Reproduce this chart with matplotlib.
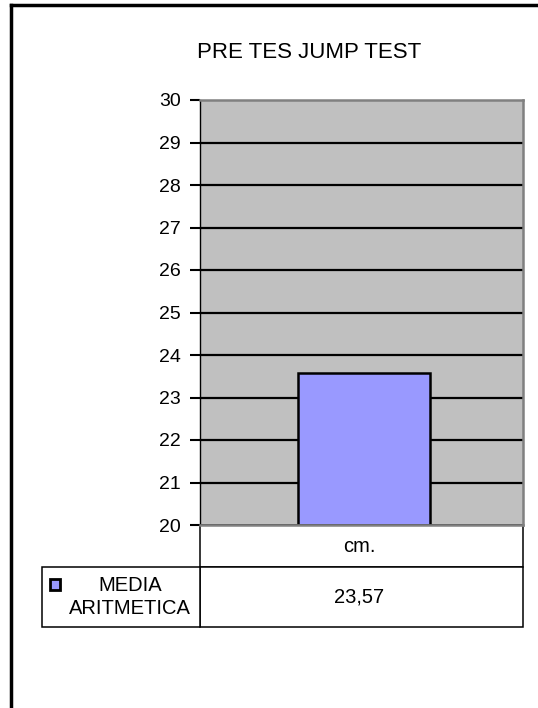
import matplotlib.pyplot as plt
from matplotlib.patches import Rectangle
from matplotlib.lines import Line2D

plt.rcParams['font.family'] = ['Liberation Sans', 'DejaVu Sans']

# data
categories = ["cm."]
values = [23.57]
value_labels = ["23,57"]
series_name = "MEDIA\nARITMETICA"
y_ticks = list(range(20, 31))

W, H = 538, 708
fig = plt.figure(figsize=(W / 100, H / 100), dpi=100)

# outer frame (left + top only)
fig.add_artist(Line2D([11 / W, 11 / W], [0, 1 - 5 / H], color='black', lw=2.5))
fig.add_artist(Line2D([11 / W, 1], [1 - 5 / H, 1 - 5 / H], color='black', lw=2.5))

fig.text(309 / W, 1 - 52 / H, "PRE TES JUMP TEST", ha='center', va='center', fontsize=16)

# plot area
x0, x1, y0, y1 = 200, 523, 100, 525
ax = fig.add_axes([x0 / W, 1 - y1 / H, (x1 - x0) / W, (y1 - y0) / H])
ax.set_facecolor('#c0c0c0')
ax.set_xlim(-0.508, 0.492)
ax.set_ylim(20, 30)
ax.set_yticks(y_ticks)
ax.set_xticks([])
for yv in y_ticks[1:-1]:
    ax.axhline(yv, color='black', lw=1.6, zorder=1)

xs = range(len(categories))
ax.bar(xs, [v - 20 for v in values], bottom=20, width=0.41,
       color='#9999ff', edgecolor='black', linewidth=1.8, zorder=2)

ax.tick_params(axis='y', direction='out', length=7, width=1.5, labelsize=14, pad=7)
ax.spines['left'].set_color('black')
ax.spines['left'].set_linewidth(1.0)
for s in ['top', 'right', 'bottom']:
    ax.spines[s].set_color('#808080')
    ax.spines[s].set_linewidth(1.8)

# data table under the plot (axes coordinates)
ph = y1 - y0
pw = x1 - x0
r1 = 42 / ph   # header row height
r2 = 60 / ph   # value row height
lab_w = (x0 - 42) / pw

cells = [
    (0, -r1, 1, r1),
    (0, -r1 - r2, 1, r2),
    (-lab_w, -r1 - r2, lab_w, r2),
]
for cx, cy, cw, chh in cells:
    ax.add_patch(Rectangle((cx, cy), cw, chh, transform=ax.transAxes,
                           facecolor='white', edgecolor='black', lw=1.1, clip_on=False))

for i, c in enumerate(categories):
    ax.text((i + 0.5) / len(categories) - 0.008, -r1 / 2, c, transform=ax.transAxes,
            ha='center', va='center', fontsize=14.5)
    ax.text((i + 0.5) / len(categories) - 0.008, -r1 - r2 / 2, value_labels[i], transform=ax.transAxes,
            ha='center', va='center', fontsize=14.5)

ax.text((130 - x0) / pw, -r1 - r2 / 2, series_name, transform=ax.transAxes,
        ha='center', va='center', fontsize=14.5, linespacing=1.25, multialignment='center')
ax.add_patch(Rectangle(((50 - x0) / pw, -(590 - y1) / ph), 10 / pw, 11 / ph,
                       transform=ax.transAxes, facecolor='#9999ff', edgecolor='black',
                       lw=2, clip_on=False))

fig.savefig('out.png', dpi=100)
